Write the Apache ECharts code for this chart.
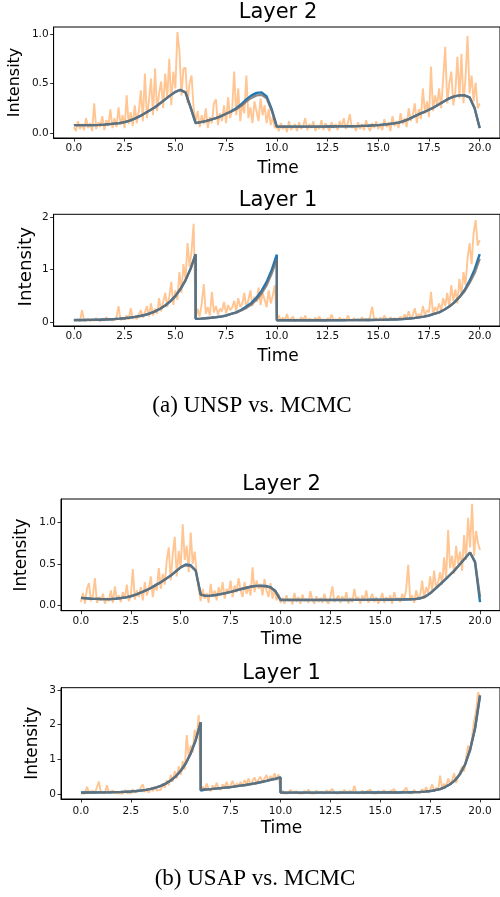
<!DOCTYPE html>
<html>
<head>
<meta charset="utf-8">
<script src="https://cdn.jsdelivr.net/npm/echarts@6/dist/echarts.min.js"></script>
<style>
  html, body { margin: 0; padding: 0; background: #fff; }
  #chart { width: 500px; height: 897px; }
</style>
</head>
<body>
<div id="chart"></div>
<script>
// tick labels
const xTicks = [0, 2.5, 5, 7.5, 10, 12.5, 15, 17.5, 20]
const yTicksL2 = [0, 0.5, 1.0]
const yTicksA1 = [0, 1, 2]
const yTicksB1 = [0, 1, 2, 3]

// time grid of the noisy samples (every 0.1)
const tNoisy = []
for (let i = 0; i <= 200; i++) tNoisy.push(i / 10)

// time grid of the smooth curves (jumps at 6 and 10 repeated)
const tCurve = [
  0, 0.25, 0.5, 0.75, 1, 1.25, 1.5, 1.75, 2, 2.25, 2.5, 2.75, 3, 3.25, 3.5, 3.75, 4, 4.25, 4.5, 4.75, 5, 5.25, 5.5, 5.75, 6,
  6, 6.25, 6.5, 6.75, 7, 7.25, 7.5, 7.75, 8, 8.25, 8.5, 8.75, 9, 9.25, 9.5, 9.75, 10,
  10, 10.25, 10.5, 10.75, 11, 11.25, 11.5, 11.75, 12, 12.25, 12.5, 12.75, 13, 13.25, 13.5, 13.75, 14, 14.25, 14.5, 14.75,
  15, 15.25, 15.5, 15.75, 16, 16.25, 16.5, 16.75, 17, 17.25, 17.5, 17.75, 18, 18.25, 18.5, 18.75, 19, 19.25, 19.5, 19.75, 20
]

// (a) Layer 2
const aL2Noisy = [
  0.06, 0.02, 0.12, 0.04, 0.09, 0.03, 0.15, 0.05, 0.10, 0.02,
  0.30, 0.04, 0.11, 0.06, 0.17, 0.03, 0.13, 0.07, 0.24, 0.05,
  0.15, 0.06, 0.26, 0.08, 0.18, 0.05, 0.38, 0.09, 0.21, 0.07,
  0.28, 0.10, 0.22, 0.43, 0.12, 0.60, 0.15, 0.33, 0.55, 0.18,
  0.65, 0.22, 0.40, 0.52, 0.25, 0.60, 0.35, 0.75, 0.28, 0.62,
  0.45, 1.02, 0.83, 0.38, 0.65, 0.66, 0.30, 0.50, 0.58, 0.25,
  0.12, 0.22, 0.06, 0.18, 0.09, 0.25, 0.05, 0.16, 0.10, 0.30,
  0.34, 0.08, 0.20, 0.12, 0.28, 0.10, 0.36, 0.15, 0.24, 0.62,
  0.18, 0.45, 0.12, 0.30, 0.20, 0.58, 0.15, 0.26, 0.10, 0.32,
  0.22, 0.12, 0.35, 0.18, 0.28, 0.10, 0.24, 0.08, 0.16, 0.05,
  0.07, 0.02, 0.10, 0.04, 0.08, 0.01, 0.12, 0.03, 0.06, 0.09,
  0.02, 0.11, 0.04, 0.07, 0.15, 0.03, 0.09, 0.05, 0.12, 0.02,
  0.08, 0.04, 0.13, 0.03, 0.10, 0.06, 0.02, 0.11, 0.05, 0.09,
  0.03, 0.12, 0.06, 0.15, 0.04, 0.10, 0.19, 0.05, 0.08, 0.02,
  0.11, 0.04, 0.09, 0.03, 0.13, 0.06, 0.02, 0.10, 0.05, 0.12,
  0.04, 0.09, 0.03, 0.14, 0.06, 0.11, 0.02, 0.17, 0.07, 0.12,
  0.05, 0.20, 0.09, 0.15, 0.06, 0.25, 0.12, 0.18, 0.30, 0.10,
  0.24, 0.14, 0.45, 0.20, 0.32, 0.16, 0.67, 0.22, 0.38, 0.28,
  0.45, 0.25, 0.55, 0.87, 0.30, 0.50, 0.62, 0.28, 0.42, 0.77,
  0.35, 0.80, 0.30, 0.55, 0.98, 0.40, 0.58, 0.32, 0.51, 0.25,
  0.30
]
const aL2True = [
  0.08, 0.08, 0.08, 0.08, 0.08, 0.082, 0.085, 0.09, 0.095, 0.10, 0.11, 0.125, 0.145, 0.17, 0.20, 0.23, 0.26, 0.30, 0.34, 0.38, 0.415, 0.435, 0.41, 0.26, 0.10,
  0.10, 0.11, 0.12, 0.135, 0.15, 0.17, 0.195, 0.22, 0.25, 0.29, 0.34, 0.38, 0.405, 0.41, 0.37, 0.24, 0.065,
  0.065, 0.065, 0.065, 0.065, 0.065, 0.065, 0.065, 0.065, 0.065, 0.065, 0.066, 0.066, 0.067, 0.067, 0.068, 0.069, 0.07, 0.072, 0.074, 0.077,
  0.08, 0.085, 0.09, 0.097, 0.105, 0.12, 0.14, 0.165, 0.19, 0.21, 0.235, 0.26, 0.29, 0.32, 0.35, 0.37, 0.38, 0.38, 0.36, 0.25, 0.05
]
const aL2Mcmc = [
  0.08, 0.08, 0.08, 0.08, 0.08, 0.082, 0.085, 0.09, 0.095, 0.10, 0.11, 0.125, 0.145, 0.17, 0.20, 0.23, 0.26, 0.30, 0.34, 0.38, 0.415, 0.435, 0.41, 0.26, 0.10,
  0.10, 0.11, 0.12, 0.135, 0.15, 0.17, 0.195, 0.215, 0.24, 0.275, 0.32, 0.355, 0.38, 0.385, 0.35, 0.225, 0.065,
  0.065, 0.065, 0.065, 0.065, 0.065, 0.065, 0.065, 0.065, 0.065, 0.065, 0.066, 0.066, 0.067, 0.067, 0.068, 0.069, 0.07, 0.072, 0.074, 0.077,
  0.08, 0.085, 0.09, 0.097, 0.105, 0.12, 0.14, 0.165, 0.19, 0.21, 0.235, 0.26, 0.29, 0.32, 0.35, 0.37, 0.38, 0.38, 0.36, 0.25, 0.05
]

// (a) Layer 1
const aL1Noisy = [
  0.03, 0.02, 0.05, 0.01, 0.22, 0.03, 0.02, 0.06, 0.01, 0.04,
  0.02, 0.07, 0.03, 0.01, 0.05, 0.02, 0.09, 0.03, 0.06, 0.02,
  0.04, 0.08, 0.30, 0.03, 0.07, 0.05, 0.12, 0.04, 0.26, 0.06,
  0.09, 0.05, 0.14, 0.22, 0.08, 0.18, 0.30, 0.10, 0.35, 0.12,
  0.25, 0.15, 0.45, 0.20, 0.38, 0.55, 0.28, 0.48, 0.76, 0.32,
  0.60, 0.42, 0.95, 0.55, 1.10, 0.80, 1.50, 1.05, 1.35, 1.87,
  0.06, 0.25, 0.10, 0.35, 0.72, 0.15, 0.28, 0.12, 0.57, 0.18,
  0.30, 0.14, 0.25, 0.20, 0.38, 0.16, 0.32, 0.22, 0.27, 0.40,
  0.20, 0.45, 0.28, 0.35, 0.55, 0.25, 0.42, 0.60, 0.30, 0.48,
  0.38, 0.65, 0.32, 0.55, 0.42, 0.28, 0.60, 0.35, 0.50, 0.70,
  0.04, 0.12, 0.02, 0.08, 0.03, 0.15, 0.02, 0.06, 0.10, 0.01,
  0.05, 0.02, 0.09, 0.03, 0.12, 0.01, 0.06, 0.04, 0.02, 0.08,
  0.03, 0.10, 0.02, 0.05, 0.01, 0.07, 0.03, 0.14, 0.02, 0.05,
  0.02, 0.08, 0.03, 0.06, 0.01, 0.12, 0.04, 0.02, 0.07, 0.03,
  0.05, 0.02, 0.09, 0.03, 0.06, 0.01, 0.10, 0.29, 0.04, 0.07,
  0.02, 0.08, 0.03, 0.12, 0.05, 0.02, 0.09, 0.04, 0.07, 0.03,
  0.06, 0.10, 0.04, 0.14, 0.07, 0.20, 0.05, 0.12, 0.26, 0.08,
  0.15, 0.10, 0.30, 0.12, 0.22, 0.18, 0.57, 0.14, 0.28, 0.20,
  0.35, 0.22, 0.45, 0.30, 0.55, 0.28, 0.70, 0.40, 0.62, 0.35,
  0.82, 0.50, 0.95, 0.70, 1.20, 1.50, 1.10, 1.70, 1.94, 1.45,
  1.56
]
const aL1True = [
  0.033, 0.033, 0.034, 0.036, 0.038, 0.04, 0.044, 0.048, 0.053, 0.06, 0.068, 0.079, 0.093, 0.11, 0.13, 0.16, 0.20, 0.25, 0.31, 0.39, 0.49, 0.625, 0.79, 1.01, 1.29,
  0.056, 0.061, 0.068, 0.077, 0.088, 0.10, 0.12, 0.15, 0.18, 0.23, 0.29, 0.36, 0.46, 0.59, 0.76, 0.99, 1.28,
  0.03, 0.03, 0.03, 0.03, 0.03, 0.03, 0.03, 0.03, 0.03, 0.03, 0.03, 0.031, 0.031, 0.031, 0.032, 0.032, 0.033, 0.033, 0.034, 0.035,
  0.036, 0.038, 0.041, 0.045, 0.049, 0.054, 0.062, 0.071, 0.084, 0.10, 0.12, 0.15, 0.18, 0.23, 0.29, 0.37, 0.47, 0.60, 0.78, 1.0, 1.29
]
const aL1Mcmc = [
  0.033, 0.033, 0.034, 0.036, 0.038, 0.04, 0.044, 0.048, 0.053, 0.06, 0.068, 0.079, 0.093, 0.11, 0.13, 0.16, 0.20, 0.25, 0.31, 0.39, 0.49, 0.625, 0.79, 1.01, 1.29,
  0.056, 0.061, 0.068, 0.077, 0.088, 0.10, 0.12, 0.15, 0.175, 0.215, 0.265, 0.33, 0.42, 0.54, 0.70, 0.92, 1.20,
  0.03, 0.03, 0.03, 0.03, 0.03, 0.03, 0.03, 0.03, 0.03, 0.03, 0.03, 0.031, 0.031, 0.031, 0.032, 0.032, 0.033, 0.033, 0.034, 0.035,
  0.036, 0.038, 0.041, 0.045, 0.049, 0.054, 0.062, 0.071, 0.084, 0.10, 0.12, 0.15, 0.18, 0.23, 0.29, 0.37, 0.47, 0.58, 0.74, 0.93, 1.20
]

// (b) Layer 2
const bL2Noisy = [
  0.04, 0.15, 0.02, 0.20, 0.27, 0.05, 0.12, 0.33, 0.03, 0.10,
  0.06, 0.14, 0.02, 0.09, 0.05, 0.18, 0.03, 0.23, 0.07, 0.12,
  0.04, 0.16, 0.08, 0.25, 0.05, 0.12, 0.44, 0.07, 0.18, 0.10,
  0.22, 0.06, 0.28, 0.12, 0.20, 0.35, 0.10, 0.26, 0.18, 0.45,
  0.20, 0.38, 0.25, 0.55, 0.70, 0.30, 0.62, 0.83, 0.35, 0.66,
  0.45, 0.98, 0.55, 0.72, 0.40, 0.88, 0.50, 0.65, 0.38, 0.20,
  0.05, 0.20, 0.08, 0.15, 0.03, 0.26, 0.10, 0.18, 0.06, 0.22,
  0.12, 0.28, 0.08, 0.20, 0.14, 0.30, 0.10, 0.24, 0.16, 0.33,
  0.18, 0.10, 0.28, 0.14, 0.22, 0.12, 0.46, 0.16, 0.30, 0.20,
  0.26, 0.12, 0.32, 0.18, 0.10, 0.27, 0.08, 0.20, 0.06, 0.14,
  0.03, 0.09, 0.02, 0.12, 0.05, 0.08, 0.01, 0.15, 0.04, 0.10,
  0.02, 0.13, 0.05, 0.08, 0.03, 0.17, 0.06, 0.02, 0.11, 0.04,
  0.09, 0.03, 0.14, 0.05, 0.02, 0.10, 0.23, 0.04, 0.08, 0.12,
  0.03, 0.11, 0.05, 0.16, 0.02, 0.09, 0.04, 0.20, 0.06, 0.10,
  0.02, 0.12, 0.05, 0.18, 0.03, 0.08, 0.14, 0.04, 0.10, 0.02,
  0.07, 0.15, 0.03, 0.10, 0.05, 0.12, 0.02, 0.16, 0.06, 0.09,
  0.04, 0.14, 0.07, 0.20, 0.49, 0.06, 0.12, 0.03, 0.18, 0.08,
  0.12, 0.30, 0.08, 0.22, 0.15, 0.35, 0.18, 0.42, 0.20, 0.28,
  0.40, 0.25, 0.58, 0.32, 0.91, 0.45, 0.60, 0.38, 0.72, 0.50,
  0.65, 0.42, 0.85, 0.55, 1.06, 0.70, 1.23, 0.60, 0.90, 0.75,
  0.67
]
const bL2True = [
  0.09, 0.085, 0.08, 0.078, 0.076, 0.075, 0.076, 0.08, 0.088, 0.097, 0.11, 0.13, 0.155, 0.18, 0.21, 0.245, 0.28, 0.32, 0.36, 0.41, 0.46, 0.495, 0.485, 0.42, 0.13,
  0.12, 0.115, 0.118, 0.125, 0.135, 0.148, 0.162, 0.178, 0.195, 0.21, 0.225, 0.235, 0.238, 0.235, 0.22, 0.17, 0.065,
  0.065, 0.065, 0.065, 0.065, 0.065, 0.065, 0.065, 0.065, 0.065, 0.065, 0.065, 0.065, 0.065, 0.065, 0.065, 0.066, 0.066, 0.066, 0.067, 0.067,
  0.067, 0.068, 0.068, 0.069, 0.07, 0.071, 0.073, 0.075, 0.085, 0.105, 0.145, 0.20, 0.255, 0.31, 0.37, 0.43, 0.50, 0.57, 0.64, 0.52, 0.04
]
const bL2Mcmc = [
  0.09, 0.085, 0.08, 0.078, 0.076, 0.075, 0.076, 0.08, 0.088, 0.097, 0.11, 0.13, 0.155, 0.18, 0.21, 0.245, 0.28, 0.32, 0.36, 0.41, 0.46, 0.485, 0.475, 0.42, 0.13,
  0.12, 0.115, 0.118, 0.125, 0.135, 0.148, 0.162, 0.178, 0.195, 0.21, 0.225, 0.232, 0.232, 0.228, 0.215, 0.17, 0.065,
  0.065, 0.065, 0.065, 0.065, 0.065, 0.065, 0.065, 0.065, 0.065, 0.065, 0.065, 0.065, 0.065, 0.065, 0.065, 0.066, 0.066, 0.066, 0.067, 0.067,
  0.067, 0.068, 0.068, 0.069, 0.07, 0.071, 0.073, 0.075, 0.085, 0.105, 0.145, 0.20, 0.255, 0.31, 0.37, 0.43, 0.50, 0.57, 0.64, 0.53, 0.10
]

// (b) Layer 1
const bL1Noisy = [
  0.02, 0.06, 0.01, 0.21, 0.04, 0.02, 0.09, 0.03, 0.01, 0.36,
  0.03, 0.08, 0.02, 0.25, 0.04, 0.01, 0.10, 0.03, 0.06, 0.02,
  0.05, 0.01, 0.12, 0.03, 0.07, 0.02, 0.14, 0.04, 0.01, 0.08,
  0.03, 0.28, 0.06, 0.12, 0.04, 0.18, 0.08, 0.22, 0.10, 0.15,
  0.12, 0.30, 0.18, 0.40, 0.25, 0.55, 0.35, 0.66, 0.45, 0.80,
  0.55, 0.95, 0.70, 1.70, 1.05, 1.40, 1.20, 1.85, 1.60, 2.28,
  0.10, 0.22, 0.12, 0.30, 0.15, 0.08, 0.25, 0.14, 0.32, 0.18,
  0.12, 0.28, 0.20, 0.35, 0.15, 0.26, 0.38, 0.20, 0.30, 0.24,
  0.35, 0.22, 0.40, 0.28, 0.45, 0.25, 0.38, 0.48, 0.30, 0.42,
  0.50, 0.32, 0.45, 0.55, 0.38, 0.52, 0.42, 0.60, 0.40, 0.57,
  0.03, 0.10, 0.01, 0.06, 0.02, 0.12, 0.04, 0.01, 0.08, 0.02,
  0.05, 0.01, 0.09, 0.03, 0.13, 0.02, 0.06, 0.01, 0.10, 0.03,
  0.02, 0.07, 0.01, 0.11, 0.04, 0.02, 0.15, 0.03, 0.06, 0.01,
  0.08, 0.02, 0.12, 0.04, 0.01, 0.09, 0.03, 0.24, 0.02, 0.06,
  0.03, 0.10, 0.01, 0.07, 0.04, 0.13, 0.02, 0.05, 0.01, 0.09,
  0.02, 0.06, 0.11, 0.03, 0.01, 0.08, 0.04, 0.14, 0.02, 0.07,
  0.04, 0.01, 0.10, 0.19, 0.03, 0.08, 0.02, 0.12, 0.05, 0.09,
  0.03, 0.14, 0.06, 0.20, 0.04, 0.11, 0.28, 0.07, 0.18, 0.10,
  0.53, 0.15, 0.30, 0.20, 0.45, 0.28, 0.38, 0.60, 0.32, 0.50,
  0.55, 0.80, 0.65, 1.05, 1.40, 1.20, 1.65, 2.10, 2.40, 2.93,
  2.80
]
const bL1True = [
  0.042, 0.043, 0.044, 0.045, 0.046, 0.048, 0.05, 0.054, 0.059, 0.065, 0.074, 0.085, 0.10, 0.12, 0.15, 0.186, 0.235, 0.30, 0.39, 0.51, 0.67, 0.88, 1.17, 1.55, 2.07,
  0.10, 0.13, 0.14, 0.155, 0.17, 0.185, 0.20, 0.22, 0.24, 0.26, 0.285, 0.31, 0.34, 0.37, 0.41, 0.44, 0.48,
  0.04, 0.04, 0.04, 0.04, 0.04, 0.04, 0.04, 0.04, 0.04, 0.04, 0.04, 0.04, 0.04, 0.041, 0.041, 0.041, 0.041, 0.042, 0.042, 0.042,
  0.042, 0.043, 0.043, 0.044, 0.045, 0.047, 0.049, 0.053, 0.06, 0.07, 0.085, 0.11, 0.14, 0.20, 0.28, 0.40, 0.58, 0.85, 1.27, 1.89, 2.84
]
const bL1Mcmc = [
  0.042, 0.043, 0.044, 0.045, 0.046, 0.048, 0.05, 0.054, 0.059, 0.065, 0.074, 0.085, 0.10, 0.12, 0.15, 0.186, 0.235, 0.30, 0.39, 0.51, 0.67, 0.88, 1.17, 1.55, 2.07,
  0.13, 0.13, 0.14, 0.155, 0.17, 0.185, 0.20, 0.22, 0.24, 0.26, 0.285, 0.31, 0.34, 0.37, 0.41, 0.44, 0.48,
  0.04, 0.04, 0.04, 0.04, 0.04, 0.04, 0.04, 0.04, 0.04, 0.04, 0.04, 0.04, 0.04, 0.041, 0.041, 0.041, 0.041, 0.042, 0.042, 0.042,
  0.042, 0.043, 0.043, 0.044, 0.045, 0.047, 0.049, 0.053, 0.06, 0.07, 0.085, 0.11, 0.14, 0.20, 0.28, 0.40, 0.58, 0.85, 1.27, 1.89, 2.84
]

const pair = (ts, vs) => ts.map((t, i) => [t, vs[i]])

// 四个子图：位置、坐标范围、数据
const panels = [
  { title: 'Layer 2', box: [53.6, 27, 448.8, 111], y: [-0.05, 1.07], yTicks: yTicksL2, dec: 1,
    noisy: aL2Noisy, truth: aL2True, mcmc: aL2Mcmc, ylab: [14.5, 82.5, 16], time: 168.5, ttl: 13 },
  { title: 'Layer 1', box: [53.6, 214.3, 448.8, 111.7], y: [-0.08, 2.05], yTicks: yTicksA1, dec: 0,
    noisy: aL1Noisy, truth: aL1True, mcmc: aL1Mcmc, ylab: [26, 266.7, 18.3], time: 357, ttl: 200.5 },
  { title: 'Layer 2', box: [61, 499, 441, 111.7], y: [-0.065, 1.287], yTicks: yTicksL2, dec: 1,
    noisy: bL2Noisy, truth: bL2True, mcmc: bL2Mcmc, ylab: [21.5, 555, 16.8], time: 640, ttl: 485 },
  { title: 'Layer 1', box: [61, 687.7, 441, 111.3], y: [-0.144, 3.066], yTicks: yTicksB1, dec: 0,
    noisy: bL1Noisy, truth: bL1True, mcmc: bL1Mcmc, ylab: [32.5, 743.3, 16.8], time: 829, ttl: 673.5 }
]

const font = '"DejaVu Sans", sans-serif'
const grid = [], xAxis = [], yAxis = [], series = [], graphic = []

panels.forEach((p, i) => {
  const [left, top, width, height] = p.box
  grid.push({ left, top, width, height, show: true, borderColor: '#000', borderWidth: 1, backgroundColor: 'transparent' })
  xAxis.push({
    type: 'value', gridIndex: i, min: -1, max: 21,
    axisLine: { show: true, onZero: false, lineStyle: { color: '#000', width: 1 } },
    axisTick: { show: true, customValues: xTicks, length: 3.5, lineStyle: { color: '#000', width: 0.8 } },
    axisLabel: { customValues: xTicks, margin: i === 3 ? 7 : 5, fontSize: 10.5, fontFamily: font, color: '#111',
      formatter: v => v.toFixed(1) },
    splitLine: { show: false }
  })
  yAxis.push({
    type: 'value', gridIndex: i, min: p.y[0], max: p.y[1],
    axisLine: { show: true, onZero: false, lineStyle: { color: '#000', width: 1 } },
    axisTick: { show: true, customValues: p.yTicks, length: 3.5, lineStyle: { color: '#000', width: 0.8 } },
    axisLabel: { customValues: p.yTicks, margin: 5, fontSize: 10.5, fontFamily: font, color: '#111',
      formatter: v => v.toFixed(p.dec) },
    splitLine: { show: false }
  })
  series.push(
    { type: 'line', xAxisIndex: i, yAxisIndex: i, data: pair(tNoisy, p.noisy), showSymbol: false,
      lineStyle: { color: 'rgba(255,127,14,0.45)', width: 1.9 } },
    { type: 'line', xAxisIndex: i, yAxisIndex: i, data: pair(tCurve, p.truth), showSymbol: false,
      lineStyle: { color: '#1f77b4', width: 2.4 } },
    { type: 'line', xAxisIndex: i, yAxisIndex: i, data: pair(tCurve, p.mcmc), showSymbol: false,
      lineStyle: { color: 'rgba(110,110,110,0.82)', width: 2.3 } }
  )
  const cx = left + width / 2
  graphic.push(
    { type: 'text', x: cx, y: p.ttl, style: { text: p.title, font: '21px ' + font, fill: '#000', align: 'center', verticalAlign: 'middle' } },
    { type: 'text', x: cx, y: p.time, style: { text: 'Time', font: '17px ' + font, fill: '#000', align: 'center', verticalAlign: 'middle' } },
    { type: 'text', x: p.ylab[0], y: p.ylab[1], rotation: Math.PI / 2,
      style: { text: 'Intensity', font: p.ylab[2] + 'px ' + font, fill: '#000', align: 'center', verticalAlign: 'middle' } }
  )
})

// 图注
graphic.push(
  { type: 'text', x: 252, y: 406, style: { text: '(a) UNSP vs. MCMC', font: '23px "Liberation Serif", serif', fill: '#000', align: 'center', verticalAlign: 'middle' } },
  { type: 'text', x: 255, y: 879, style: { text: '(b) USAP vs. MCMC', font: '23px "Liberation Serif", serif', fill: '#000', align: 'center', verticalAlign: 'middle' } }
)

const chart = echarts.init(document.getElementById('chart'))
chart.setOption({ animation: false, grid, xAxis, yAxis, series, graphic })
</script>
</body>
</html>
